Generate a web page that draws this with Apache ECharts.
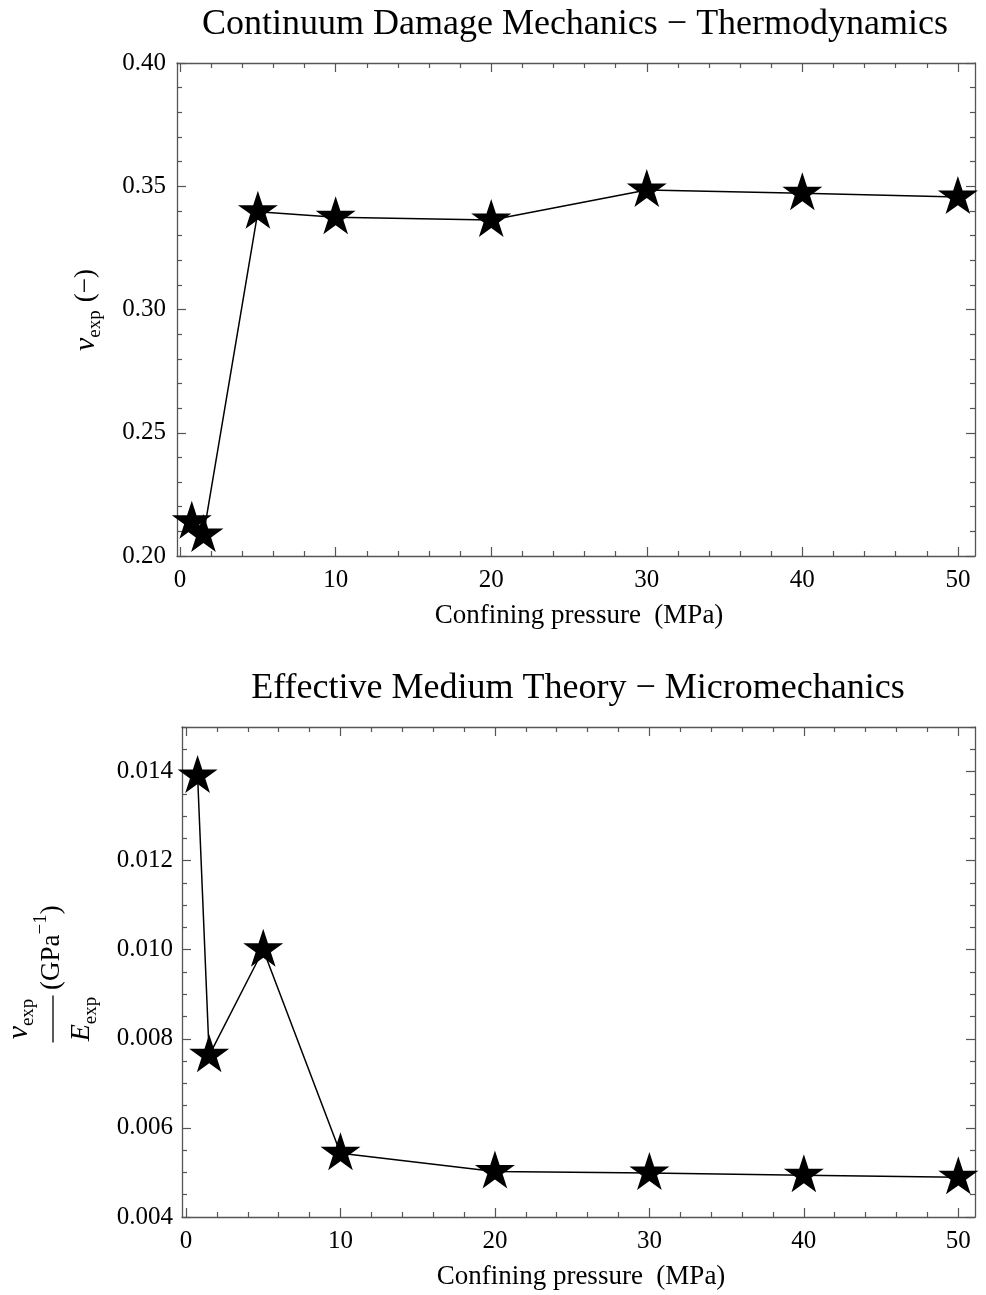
<!DOCTYPE html>
<html><head><meta charset="utf-8">
<script src="https://cdn.jsdelivr.net/npm/echarts@6/dist/echarts.min.js"></script>
<style>html,body{margin:0;padding:0;background:#fff}#c{width:986px;height:1295px}</style>
</head><body><div id="c"></div>
<script>
// ---- data ----
const pressureTop = [0.75, 1.5, 5, 10, 20, 30, 40, 50];
const nuExp = [0.2139, 0.2085, 0.3397, 0.3374, 0.3363, 0.3485, 0.3472, 0.3456];
const pressureBottom = [0.75, 1.5, 5, 10, 20, 30, 40, 50];
const nuOverE = [0.0139, 0.00763, 0.0100, 0.00543, 0.00502, 0.00499, 0.00494, 0.00489];
const xTicks = [0, 10, 20, 30, 40, 50];
const yTicksTop = [0.20, 0.25, 0.30, 0.35, 0.40];
const yTicksBottom = [0.004, 0.006, 0.008, 0.010, 0.012, 0.014];
const titleTop = 'Continuum Damage Mechanics − Thermodynamics';
const titleBottom = 'Effective Medium Theory − Micromechanics';
const xName = 'Confining pressure  (MPa)';

// ---- style ----
const FF = '"Liberation Serif", "DejaVu Serif", serif';
const AX = '#555';
function minors(a, b, step, majors) {
  const out = [];
  for (let v = a; v <= b + step / 10; v += step) {
    const r = +v.toFixed(6);
    if (!majors.some(m => Math.abs(m - r) < step / 10)) out.push(r);
  }
  return out;
}
function axis(dim, grid, pos, vals, len, line, label, min, max, fmt, margin) {
  return {
    type: 'value', gridIndex: grid, position: pos, min: min, max: max,
    axisLine: { show: line, onZero: false, lineStyle: { color: AX, width: 1.3 } },
    axisTick: { show: true, inside: true, length: len, customValues: vals, lineStyle: { color: AX, width: 1.2 } },
    axisLabel: { show: label, customValues: vals, margin: margin || 10, color: '#000', fontSize: 25, fontFamily: FF, formatter: fmt },
    splitLine: { show: false }, minorTick: { show: false }
  };
}
const xMin1 = -0.2, xMax1 = 51.1, xMin2 = -0.26, xMax2 = 51.08;
const xMinor = minors(0, 51, 2, xTicks);
const yMinorTop = minors(0.20, 0.40, 0.01, yTicksTop);
const yMinorBottom = minors(0.004, 0.015, 0.0005, yTicksBottom);
const fx = v => String(v);
const fy2 = v => v.toFixed(2);
const fy3 = v => v.toFixed(3);

const xAxes = [
  axis('x', 0, 'bottom', xTicks, 9, true, true, xMin1, xMax1, fx, 12),
  axis('x', 0, 'bottom', xMinor, 5, false, false, xMin1, xMax1, fx),
  axis('x', 0, 'top', xTicks, 9, true, false, xMin1, xMax1, fx),
  axis('x', 0, 'top', xMinor, 5, false, false, xMin1, xMax1, fx),
  axis('x', 1, 'bottom', xTicks, 9, true, true, xMin2, xMax2, fx, 12),
  axis('x', 1, 'bottom', xMinor, 5, false, false, xMin2, xMax2, fx),
  axis('x', 1, 'top', xTicks, 9, true, false, xMin2, xMax2, fx),
  axis('x', 1, 'top', xMinor, 5, false, false, xMin2, xMax2, fx)
];
const yAxes = [
  axis('y', 0, 'left', yTicksTop, 9, true, true, 0.2, 0.4, fy2, 11),
  axis('y', 0, 'left', yMinorTop, 5, false, false, 0.2, 0.4, fy2),
  axis('y', 0, 'right', yTicksTop, 9, true, false, 0.2, 0.4, fy2),
  axis('y', 0, 'right', yMinorTop, 5, false, false, 0.2, 0.4, fy2),
  axis('y', 1, 'left', yTicksBottom, 9, true, true, 0.004, 0.015, fy3, 9),
  axis('y', 1, 'left', yMinorBottom, 5, false, false, 0.004, 0.015, fy3),
  axis('y', 1, 'right', yTicksBottom, 9, true, false, 0.004, 0.015, fy3),
  axis('y', 1, 'right', yMinorBottom, 5, false, false, 0.004, 0.015, fy3)
];

// star symbol
let sp = 'path://';
for (let k = 0; k < 10; k++) {
  const a = -Math.PI / 2 + k * Math.PI / 5, r = k % 2 ? 0.382 : 1;
  sp += (k ? 'L' : 'M') + (r * Math.cos(a)).toFixed(4) + ' ' + (r * Math.sin(a)).toFixed(4) + ' ';
}
sp += 'Z';

function lineSeries(xs, ys, xi, yi) {
  return {
    type: 'line', xAxisIndex: xi, yAxisIndex: yi,
    data: xs.map((x, i) => [x, ys[i]]),
    symbol: sp, symbolSize: [40, 38], symbolOffset: [0, -2], showAllSymbol: true,
    itemStyle: { color: '#000' }, lineStyle: { color: '#000', width: 1.5 },
    animation: false, z: 5
  };
}

// text layout helpers
const cv = document.createElement('canvas').getContext('2d');
function tw(txt, size, style) { cv.font = (style || 'normal') + ' ' + size + 'px ' + FF; return cv.measureText(txt).width; }
function txt(t, x, y, size, style, align) {
  return { type: 'text', x: x, y: y, style: { text: t, fontSize: size, fontFamily: FF, fontStyle: style || 'normal', fill: '#000', align: align || 'left', verticalAlign: 'middle' } };
}
// pieces: [text, size, style, dy, gapBefore]
function run(pieces, cx, cy) {
  let W = 0;
  pieces.forEach(p => { W += (p[4] || 0) + tw(p[0], p[1], p[2]); });
  let x = cx - W / 2; const out = [];
  pieces.forEach(p => { x += (p[4] || 0); out.push(txt(p[0], x, cy + p[3], p[1], p[2])); x += tw(p[0], p[1], p[2]); });
  return out;
}
function runFrom(pieces, x0, cy) {
  let x = x0; const out = [];
  pieces.forEach(p => { x += (p[4] || 0); out.push(txt(p[0], x, cy + p[3], p[1], p[2])); x += tw(p[0], p[1], p[2]); });
  return out;
}

const graphics = [
  txt(titleTop, 575, 25, 36, 'normal', 'center'),
  txt(titleBottom, 578, 689, 36, 'normal', 'center'),
  txt(xName, 579, 616, 27, 'normal', 'center'),
  txt(xName, 581, 1277, 27, 'normal', 'center'),
  { type: 'group', x: 86, y: 310, rotation: Math.PI / 2,
    children: run([['ν', 30, 'italic', 0], ['exp', 19, 'normal', 9], ['(−)', 27, 'normal', 0, 8]], 0, 0) },
  { type: 'group', x: 53, y: 1019, rotation: Math.PI / 2,
    children: [
      { type: 'line', shape: { x1: -23.5, y1: 0, x2: 23.5, y2: 0 }, style: { stroke: '#000', lineWidth: 1.3 } }
    ].concat(
      run([['ν', 30, 'italic', 0], ['exp', 19, 'normal', 9]], 0, -34),
      run([['E', 28, 'italic', 0], ['exp', 19, 'normal', 9]], 0, 29),
      runFrom([['(GPa', 27, 'normal', 0], ['−1', 19, 'normal', -11], [')', 27, 'normal', 0]], 29, -1)
    ) }
];

const chart = echarts.init(document.getElementById('c'), null, { renderer: 'canvas' });
chart.setOption({
  backgroundColor: '#fff',
  animation: false,
  grid: [
    { left: 177, top: 63, width: 798, height: 493 },
    { left: 182, top: 727, width: 793, height: 490 }
  ],
  xAxis: xAxes,
  yAxis: yAxes,
  series: [
    lineSeries(pressureTop, nuExp, 0, 0),
    lineSeries(pressureBottom, nuOverE, 4, 4)
  ],
  graphic: graphics
});
</script></body></html>
